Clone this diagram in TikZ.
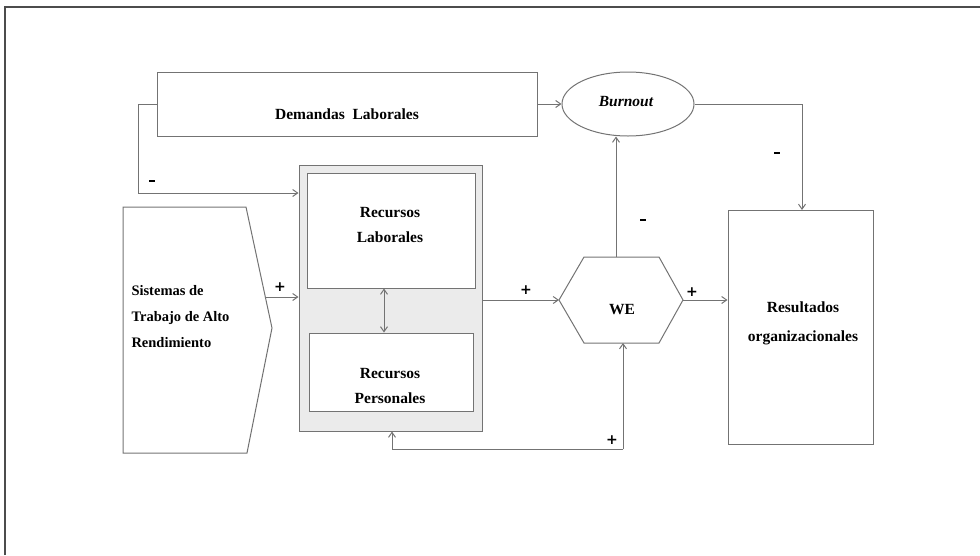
\documentclass[tikz,border=0pt]{standalone}
\usepackage{fontspec}
\setmainfont{Liberation Serif}
\newfontfamily\plusfont{DejaVu Sans}
\usetikzlibrary{arrows.meta,shapes.geometric,positioning}
\begin{document}
\begin{tikzpicture}[x=1pt,y=-1pt,
  line width=1pt,
  ln/.style={draw=black!55},
  arr/.style={ln,-{Straight Barb[length=5pt,width=7pt]}},
  darr/.style={ln,{Straight Barb[length=5pt,width=7pt]}-{Straight Barb[length=5pt,width=7pt]}},
  txt/.style={font=\fontsize{15.5}{25}\selectfont\bfseries, align=center, inner sep=0pt},
  sgn/.style={font=\plusfont\fontsize{14}{14}\selectfont\bfseries, inner sep=0pt},
  neg/.style={fill=black, minimum width=6.5pt, minimum height=2.6pt, inner sep=0pt}]
\useasboundingbox (0,0) rectangle (980,555);
% frame
\draw[black!70,line width=2pt] (5,555) -- (5,7) -- (980,7);

% Demandas Laborales
\node[ln,draw,minimum width=380pt,minimum height=64pt,inner sep=0pt] (dem) at (347,104) {};
\node[txt] (demt) at (347,114) {Demandas\ \ Laborales};

% Burnout
\node[ln,draw,ellipse,minimum width=132pt,minimum height=64pt,inner sep=0pt] (burn) at (628,104) {};
\node[txt,font=\fontsize{15.5}{25}\selectfont\bfseries\itshape] (burnt) at (626,102) {Burnout};

% gray container
\node[ln,draw,fill=black!8,minimum width=183pt,minimum height=266pt,inner sep=0pt] (gray) at (390.5,298) {};
\node[ln,draw,fill=white,minimum width=168pt,minimum height=115pt,inner sep=0pt] (rl) at (391,230.5) {};
\node[txt] (rlt) at (390,225) {Recursos\\Laborales};
\node[ln,draw,fill=white,minimum width=164pt,minimum height=78pt,inner sep=0pt] (rp) at (391,372) {};
\node[txt] (rpt) at (390,386) {Recursos\\Personales};

% Sistemas
\coordinate (s1) at (123,207);
\coordinate (s2) at (246,207);
\coordinate (tip) at (272,328);
\coordinate (s4) at (247,453);
\coordinate (s5) at (123,453);
\draw[ln] (s1) -- (s2) -- (tip) -- (s4) -- (s5) -- cycle;
\node[txt,align=left,anchor=west,font=\fontsize{14.5}{26}\selectfont\bfseries] (sist) at (131,317) {Sistemas de\\Trabajo de Alto\\Rendimiento};
\coordinate (sout) at (265,297);

% WE hexagon
\coordinate (w1) at (559,300);
\coordinate (w2) at (584,257);
\coordinate (w3) at (659,257);
\coordinate (w4) at (683,300);
\coordinate (w5) at (659,343);
\coordinate (w6) at (584,343);
\draw[ln] (w1) -- (w2) -- (w3) -- (w4) -- (w5) -- (w6) -- cycle;
\node[txt] (we) at (622,310) {WE};

% Resultados
\node[ln,draw,minimum width=145pt,minimum height=234pt,inner sep=0pt] (res) at (800.5,327) {};
\node[txt,font=\fontsize{15.5}{29}\selectfont\bfseries] (rest) at (803,323) {Resultados\\organizacionales};

% connectors
\draw[arr] (dem.east) -- (burn.west);
\draw[arr] (dem.west) -- ++(-18,0) |- (gray.north west |- 0,193);
\node[neg] at (152,181) {};
\draw[arr] (burn.east) -| (802,210);
\node[neg] at (777,153) {};
\draw[arr] (616,257) -- (burn.south -| 616,0);
\node[neg] at (643,220) {};
\draw[arr] (sout) -- (gray.west |- sout);
\node[sgn] at (280,287) {+};
\draw[arr] (gray.east |- w1) -- (w1);
\node[sgn] at (526,290) {+};
\draw[arr] (w4) -- (res.west |- w4);
\node[sgn] at (692,292) {+};
\draw[darr] (rl.south -| 384,0) -- (rp.north -| 384,0);
\draw[arr] (623,449) -- (623,343);
\draw[arr] (623,449) -- (392,449) -- (gray.south -| 392,0);
\node[sgn] at (612,440) {+};
\end{tikzpicture}
\end{document}
